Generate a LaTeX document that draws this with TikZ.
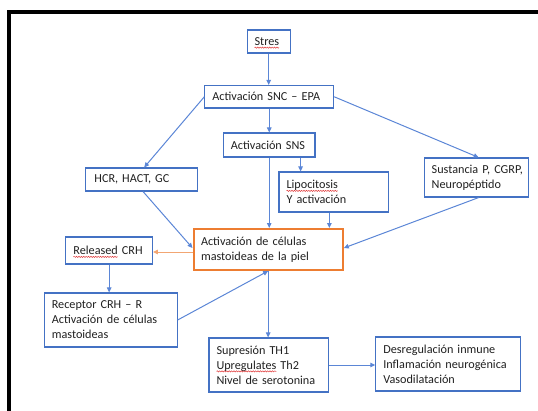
\documentclass[tikz,border=0pt]{standalone}
\usepackage{fontspec}
\setmainfont{Carlito}
\usetikzlibrary{arrows.meta,decorations.pathmorphing}
\definecolor{boxblue}{HTML}{4472C4}
\definecolor{arrblue}{HTML}{5B86D6}
\definecolor{orng}{HTML}{ED7D31}
\definecolor{orarr}{HTML}{F2A673}
\definecolor{txtc}{HTML}{202020}
\definecolor{squig}{HTML}{E03C3C}
\newcommand\sq[1]{\tikz[baseline=(sqw.base)]{\node[inner sep=0pt,outer sep=0pt,text width={},
    minimum width=0pt,minimum height=0pt,draw=none,anchor=base] (sqw) at (0,0) {#1};
  \draw[overlay,squig,line width=0.5pt,decorate,decoration={snake,amplitude=0.6pt,segment length=2.4pt}]
   ([yshift=-2.2pt]sqw.base west) -- ([yshift=-2.2pt]sqw.base east);}}
\begin{document}
\begin{tikzpicture}[x=1pt,y=-1pt,
  box/.style={draw=boxblue,line width=1.1pt,inner xsep=7.5pt,inner ysep=0pt,align=left,
    text=txtc,font=\fontsize{12.2}{15}\selectfont},
  obox/.style={box,draw=orng,line width=2pt},
  arr/.style={draw=arrblue,line width=1pt,-{Triangle[length=5pt,width=4.5pt]}},
  oarr/.style={draw=orarr,line width=1pt,-{Triangle[length=5pt,width=4.5pt]}}]
\useasboundingbox (0,0) rectangle (538,410);
\draw[line width=3.6pt,line cap=rect] (8.7,412) -- (8.7,12) -- (540,12);
\node[box,minimum width=43.2pt,minimum height=23pt,text width=28.2pt] (stres) at (268.7,41.5) {\sq{Stres}};
\node[box,minimum width=128.7pt,minimum height=22.5pt,text width=113.7pt] (snc) at (269.25,96.75) {Activación SNC – EPA};
\node[box,minimum width=91.6pt,minimum height=24pt,text width=76.6pt] (sns) at (269.2,145) {Activación SNS};
\node[box,minimum width=112.3pt,minimum height=23pt,text width=94.3pt,inner xsep=9pt] (hcr) at (141.55,179.5) {HCR, HACT, GC};
\node[box,minimum width=109.1pt,minimum height=40pt,text width=94.1pt] (lipo) at (333.55,192) {\sq{Lipocitosis}\\Y~activación};
\node[box,minimum width=103.9pt,minimum height=39pt,text width=88.9pt] (sust) at (476.15,177.5) {Sustancia~P,~CGRP,\\Neuropéptido};
\node[obox,minimum width=149.3pt,minimum height=41pt,text width=134.3pt] (mast) at (268.15,249.5) {Activación de células\\mastoideas de la piel};
\node[box,minimum width=86.5pt,minimum height=27pt,text width=71.5pt] (crh) at (109.15,250.5) {\sq{Released}~CRH};
\node[box,minimum width=132.8pt,minimum height=54pt,text width=117.8pt] (rec) at (110.7,320) {Receptor CRH – R\\Activación~de~células\\mastoideas};
\node[box,minimum width=119.4pt,minimum height=54pt,text width=104.4pt] (sup) at (268.7,365) {Supresión TH1\\\sq{Upregulates}~Th2\\Nivel~de~serotonina};
\node[box,minimum width=145.1pt,minimum height=54pt,text width=130.1pt] (des) at (448.35,364) {Desregulación~inmune\\Inflamación~neurogénica\\Vasodilatación};
\draw[arr] (stres.south) -- (stres.south |- snc.north);
\draw[arr] (snc.south) -- (snc.south |- sns.north);
\draw[arr] (snc.west) -- ([xshift=2.6pt]hcr.north);
\draw[arr] (snc.east) -- ([xshift=2.5pt]sust.north);
\draw[arr] (sns.south) -- (sns.south |- mast.north);
\draw[arr] ([xshift=31.4pt]sns.south) -- ([xshift=31.4pt]sns.south |- lipo.north);
\draw[arr] ([xshift=-4.2pt]lipo.south) -- ([xshift=-4.2pt]lipo.south |- mast.north);
\draw[arr] ([xshift=1.5pt]hcr.south) -- ([yshift=1.5pt]mast.west);
\draw[arr] ([xshift=2.5pt]sust.south) -- ([yshift=1.5pt]mast.east);
\draw[oarr] ([yshift=-2.5pt]mast.west) -- ([yshift=-2.5pt]mast.west -| crh.east);
\draw[arr] (crh.south) -- (crh.south |- rec.north);
\draw[arr] (rec.east) -- (mast.south);
\draw[arr] (mast.south) -- (mast.south |- sup.north);
\draw[arr] (sup.east) -- (sup.east -| des.west);
\end{tikzpicture}
\end{document}
